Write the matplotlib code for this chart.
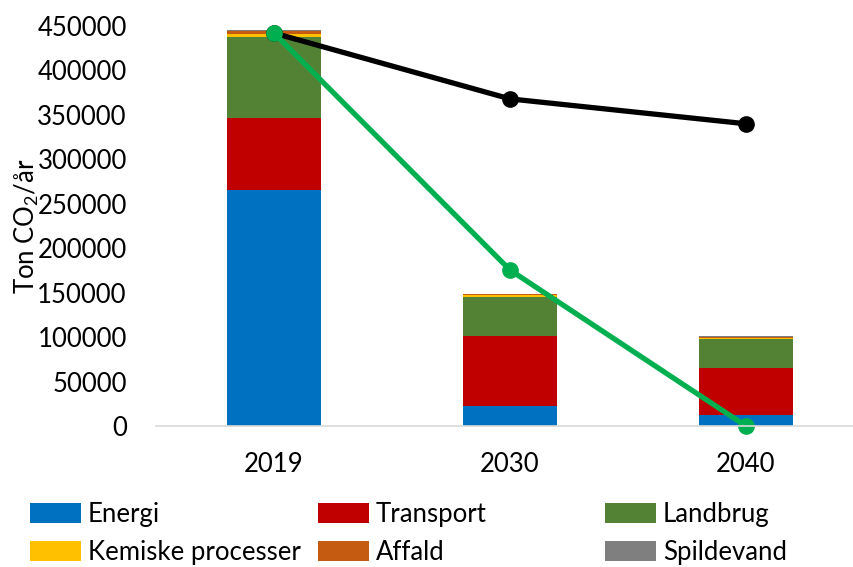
import numpy as np
import matplotlib.pyplot as plt

plt.rcParams['font.family'] = ['Lato', 'DejaVu Sans']
plt.rcParams['mathtext.default'] = 'regular'

# dati
years = ["2019", "2030", "2040"]
energi = [265000, 22500, 12500]
transport = [82000, 78500, 52500]
landbrug = [90500, 44000, 33000]
kemiske = [4000, 2000, 1500]
affald = [3000, 1500, 1000]
spildevand = [1000, 500, 500]
sort_linje = [442000, 368000, 340000]
groen_linje = [442000, 175500, 0]

serier = [("Energi", energi, "#0070C0"),
          ("Transport", transport, "#C00000"),
          ("Landbrug", landbrug, "#548235"),
          ("Kemiske processer", kemiske, "#FFC000"),
          ("Affald", affald, "#C55A11"),
          ("Spildevand", spildevand, "#7F7F7F")]

fs = 18.5

fig = plt.figure(figsize=(8.54, 5.67), dpi=100)
ax = fig.add_axes([156/854, 141/567, 708/854, 400/567])

x = np.arange(len(years))
bund = np.zeros(len(years))
handles = []
for navn, vals, col in serier:
    b = ax.bar(x, vals, 0.4, bottom=bund, color=col, label=navn)
    handles.append(b)
    bund += np.array(vals)

ax.plot(x, sort_linje, color="black", lw=3.8, marker="o", ms=11, clip_on=False)
ax.plot(x, groen_linje, color="#00B050", lw=3.8, marker="o", ms=11, clip_on=False)

ax.set_xlim(-0.5, 2.5)
ax.set_ylim(0, 450000)
ax.set_yticks(np.arange(0, 450001, 50000))
ax.set_xticks(x)
ax.set_xticklabels(years)
ax.tick_params(length=0, labelsize=fs, colors="black")
ax.tick_params(axis="x", pad=19)
ax.tick_params(axis="y", pad=21)
for s in ["top", "right", "left"]:
    ax.spines[s].set_visible(False)
ax.spines["bottom"].set_color("#D9D9D9")
ax.spines["bottom"].set_linewidth(1.2)
ax.set_ylabel("Ton CO$_2$/år", fontsize=fs, labelpad=-3)

# legenda in tre colonne a passo fisso
xs = [30/854, 318/854, 605/854]
for k in range(3):
    leg = fig.legend([handles[k], handles[k + 3]], [serier[k][0], serier[k + 3][0]],
                     loc="center left", bbox_to_anchor=(xs[k], 0.059), frameon=False,
                     fontsize=fs, handlelength=2.0, handleheight=0.8, handletextpad=0.25,
                     labelspacing=0.5, borderpad=0, borderaxespad=0)

fig.savefig("out.png", dpi=100)
